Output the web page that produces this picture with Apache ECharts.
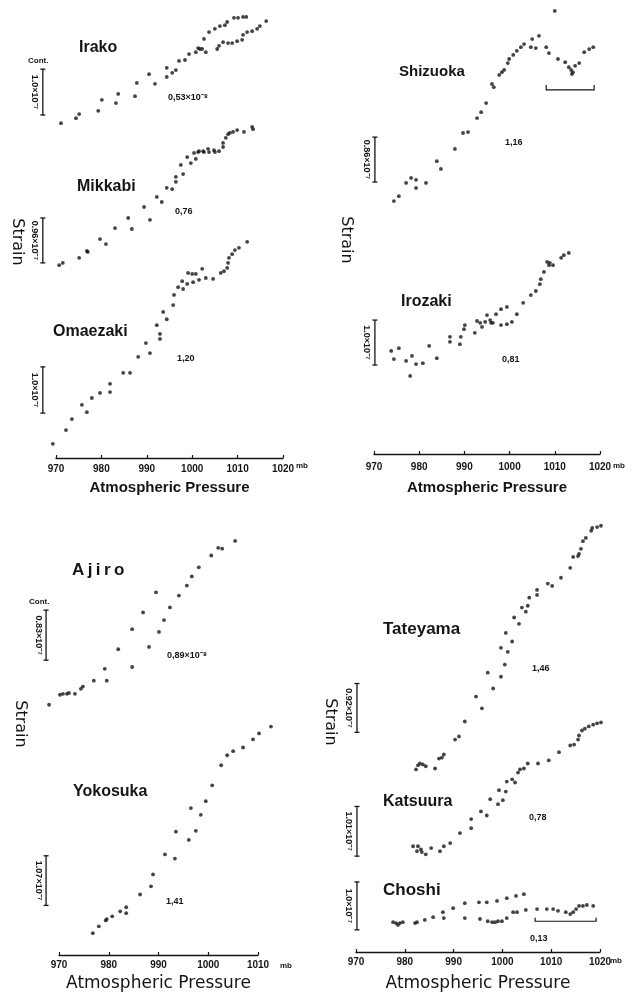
<!DOCTYPE html>
<html>
<head>
<meta charset="utf-8">
<script src="https://cdn.jsdelivr.net/npm/echarts@6/dist/echarts.min.js"></script>
<style>
html, body { margin: 0; padding: 0; background: #fff; }
#chart { width: 635px; height: 993px; }
</style>
</head>
<body>
<div id="chart"></div>
<script>
// Strain records against atmospheric pressure (mb). Strain is given as a
// relative offset (0-100 per panel) so several stations share one frame.
const pressureTicks = [970, 980, 990, 1000, 1010, 1020];

// --- Panel 1 -------------------------------------------------------------
const irakoP = [971.1,974.4,975.1,979.3,980.1,983.2,983.7,987.4,987.8,990.5,991.8,994.4,994.4,995.6,996.4,997.1,998.4,999.3,1000.8,1001.3,1001.7,1002.2,1003.0,1002.6,1003.7,1005.0,1006.1,1007.2,1007.7,1009.2,1010.1,1011.2,1011.9,1005.5,1005.9,1006.8,1007.9,1008.8,1009.9,1011.0,1011.2,1012.1,1013.2,1014.3,1014.9,1016.3];
const irakoS = [73.1,74.2,75.1,75.8,78.2,77.5,79.5,79.0,81.9,83.8,81.7,83.2,85.2,84.1,84.7,86.7,86.9,88.2,88.6,89.5,89.3,89.3,88.6,91.5,93.0,93.7,94.3,94.5,95.2,96.1,96.1,96.3,96.3,89.3,90.0,90.8,90.6,90.6,91.0,91.3,92.4,93.0,93.2,93.7,94.3,95.4];

const mikkabiP = [970.7,971.5,975.1,976.8,977.0,979.7,981.0,983.0,985.9,986.7,989.4,990.7,992.2,993.3,994.4,995.6,996.4,996.4,998.0,997.5,998.9,999.7,1000.4,1000.8,1001.3,1001.5,1002.4,1002.6,1003.5,1003.7,1004.8,1005.0,1005.9,1006.8,1006.8,1007.4,1007.9,1008.3,1009.0,1009.9,1011.4,1013.2,1013.4];
const mikkabiS = [42.1,42.6,43.7,45.2,45.0,47.8,46.7,50.2,52.4,50.0,54.8,52.0,57.0,55.9,59.0,58.7,60.3,61.4,62.0,64.0,65.7,64.4,66.6,65.3,66.8,67.0,67.0,66.8,67.5,66.8,67.2,66.8,67.0,67.9,68.8,69.9,70.7,71.0,71.2,71.6,71.2,72.3,71.8];

const omaezakiP = [969.3,972.2,973.5,975.7,976.8,977.9,979.7,981.9,981.9,984.8,986.3,988.1,989.8,990.7,992.2,992.9,992.9,993.6,994.4,995.8,996.0,996.9,997.8,998.0,998.9,999.1,1000.0,1000.8,1000.2,1001.5,1002.2,1003.0,1004.6,1006.3,1007.0,1007.7,1007.9,1008.1,1008.8,1009.4,1010.3,1012.1];
const omaezakiS = [3.1,6.1,8.5,11.6,10.0,13.1,14.2,16.2,14.4,18.6,18.6,22.1,25.1,22.9,29.0,27.1,26.0,31.9,30.3,33.4,35.6,37.3,38.6,36.9,38.0,40.4,40.2,40.2,38.4,38.9,41.3,39.3,39.1,40.4,40.8,41.5,42.6,43.7,44.5,45.4,45.9,47.2];

// --- Panel 2 -------------------------------------------------------------
const shizuokaP = [974.4,975.5,977.1,978.2,979.3,979.3,981.5,983.9,984.8,987.9,989.7,990.8,992.8,993.7,994.8,996.1,996.5,997.7,998.3,998.8,999.6,999.9,1000.8,1001.6,1002.5,1003.2,1004.7,1005.0,1005.8,1006.5,1008.1,1008.7,1010.7,1012.3,1013.1,1013.6,1013.8,1014.0,1014.5,1015.4,1016.5,1017.6,1018.5,1010.0];
const shizuokaS = [55.7,56.8,59.7,60.8,60.4,58.6,59.7,64.5,62.8,67.2,70.7,70.9,74.0,75.3,77.3,81.5,80.8,83.5,84.1,84.6,86.1,87.0,87.9,88.8,89.6,90.3,89.6,91.4,89.4,92.1,89.6,88.3,87.0,86.3,85.2,84.6,83.7,84.1,85.5,86.1,88.5,89.2,89.6,97.6];

const irozakiP = [973.8,974.4,975.5,977.1,978.4,978.0,979.3,980.8,982.2,983.9,986.8,986.8,989.2,989.0,989.9,990.1,992.3,992.8,993.5,993.9,994.6,995.0,995.7,995.9,996.3,997.0,998.1,998.1,999.4,999.4,1000.5,1001.6,1003.0,1004.7,1005.8,1006.7,1006.9,1007.6,1008.3,1008.7,1008.9,1009.6,1011.4,1012.0,1013.1];
const irozakiS = [22.7,20.9,23.3,20.5,21.6,17.2,19.8,20.0,23.8,21.1,25.8,24.7,25.8,24.2,27.5,28.4,26.7,29.3,28.9,28.0,29.1,30.6,29.5,28.9,28.9,30.8,28.4,31.9,28.6,32.4,29.1,30.8,33.3,35.0,35.9,37.4,38.5,40.1,42.3,41.6,42.1,41.6,43.2,43.8,44.3];

// --- Panel 3 -------------------------------------------------------------
const ajiroP = [968.0,970.2,970.8,971.6,972.0,973.2,974.4,974.8,977.0,979.6,979.2,981.9,984.7,984.7,986.9,988.1,989.5,990.1,991.1,992.3,994.1,995.7,996.7,998.1,1000.6,1002.0,1002.8,1005.4];
const ajiroS = [55.0,57.2,57.4,57.4,57.6,57.4,58.5,59.0,60.3,60.3,62.9,67.2,63.3,71.6,75.3,67.7,79.7,71.0,73.6,76.4,79.0,81.2,83.2,85.2,87.8,89.5,89.3,91.0];

const yokosukaP = [976.8,978.0,979.4,979.6,980.7,982.3,983.5,983.5,986.3,988.5,988.9,991.3,993.3,993.5,996.1,996.5,997.5,998.5,999.5,1000.8,1002.6,1003.8,1005.0,1007.0,1009.0,1010.2,1012.6];
const yokosukaS = [4.8,6.3,7.6,7.9,8.5,9.6,10.5,9.2,13.3,15.1,17.7,22.1,21.2,27.1,25.3,32.3,27.3,30.8,33.8,37.3,41.7,43.9,44.8,45.6,47.4,48.7,50.2];

// --- Panel 4 -------------------------------------------------------------
const tateyamaP = [982.3,982.7,983.1,983.7,984.3,986.2,987.0,987.6,988.0,990.3,991.1,992.3,994.6,995.8,997.0,998.1,999.7,1000.5,999.7,1001.1,1000.7,1002.0,1002.4,1003.4,1004.0,1004.8,1005.2,1005.5,1007.1,1007.1,1009.3,1010.2,1012.0,1013.9,1014.5,1015.5,1015.7,1016.1,1016.5,1017.1,1018.2,1018.4,1019.4,1020.2];
const tateyamaS = [40.4,41.3,41.7,41.5,41.1,40.6,42.8,43.0,43.7,47.0,47.7,51.0,56.5,53.9,61.8,58.3,60.9,63.6,67.3,66.4,70.6,68.7,74.0,72.6,76.2,75.3,76.6,78.4,79.0,80.1,81.5,81.0,82.8,85.0,87.4,87.6,88.1,89.2,90.9,91.6,93.2,93.8,94.0,94.3];

const katsuuraP = [981.7,982.5,982.7,983.3,983.5,984.3,985.4,987.2,988.0,989.3,991.3,993.6,993.6,995.6,996.8,997.5,999.1,999.3,1000.1,1000.7,1000.9,1002.0,1002.6,1003.2,1003.6,1004.4,1005.2,1007.3,1009.5,1011.6,1013.9,1014.7,1015.5,1015.7,1016.3,1016.9,1017.7,1018.6,1019.4,1020.2];
const katsuuraS = [23.4,22.3,23.4,22.7,22.1,21.6,23.0,22.3,23.4,24.1,26.3,29.4,27.4,31.1,30.2,33.8,32.7,35.8,33.6,35.5,37.7,38.2,37.5,39.7,40.4,40.6,41.7,41.7,42.4,44.2,45.7,45.9,47.0,47.9,49.0,49.4,49.9,50.3,50.6,50.8];

const choshiP = [977.6,978.2,978.6,979.0,979.6,982.1,982.5,984.1,985.8,987.8,988.0,989.9,992.3,992.3,995.2,995.4,996.8,997.0,997.9,998.9,998.5,999.1,999.9,1000.9,1000.9,1002.2,1002.8,1003.0,1004.4,1004.8,1007.1,1009.1,1010.4,1011.4,1013.0,1013.9,1014.5,1015.1,1015.7,1016.5,1017.3,1018.6];
const choshiS = [6.6,6.4,6.0,6.4,6.6,6.4,6.6,7.1,7.7,8.8,7.5,9.7,10.8,7.5,11.0,7.3,11.0,6.8,6.6,11.3,6.6,6.8,6.8,11.9,7.5,8.8,12.4,8.8,12.8,9.3,9.5,9.5,9.5,9.1,8.8,8.4,8.8,9.5,10.2,10.2,10.4,10.2];

// Scale bars: [pressure, low, high] and the strain each one stands for
const scaleBarPos   = [[967.1,74.9,84.9],[967.1,42.6,52.4],[967.1,9.8,19.9],[970.2,59.9,69.8],[970.2,19.6,29.5],[967.4,64.8,75.8],[967.4,10.9,21.8],[970.2,48.6,59.4],[970.2,21.2,32.2],[970.2,4.9,15.5]];
const scaleBarText  = ['1.0×10⁻⁷','0.96×10⁻⁷','1.0×10⁻⁷','0.86×10⁻⁷','1.0×10⁻⁷','0.83×10⁻⁷','1.07×10⁻⁷','0.92×10⁻⁷','1.01×10⁻⁷','1.0×10⁻⁷'];
const scaleBarPanel = [0,0,0,1,1,2,2,3,3,3];

// Brackets marking the later part of a record: [p0, p1, y, yCap]
const bracketPos   = [[1008.1,1018.7,80.2,81.3],[1006.7,1019.2,6.8,7.6]];
const bracketPanel = [1,3];

const stations = [
  {name:'Irako',    p:irakoP,    s:irakoS,    panel:0},
  {name:'Mikkabi',  p:mikkabiP,  s:mikkabiS,  panel:0},
  {name:'Omaezaki', p:omaezakiP, s:omaezakiS, panel:0},
  {name:'Shizuoka', p:shizuokaP, s:shizuokaS, panel:1},
  {name:'Irozaki',  p:irozakiP,  s:irozakiS,  panel:1},
  {name:'Ajiro',    p:ajiroP,    s:ajiroS,    panel:2},
  {name:'Yokosuka', p:yokosukaP, s:yokosukaS, panel:2},
  {name:'Tateyama', p:tateyamaP, s:tateyamaS, panel:3},
  {name:'Katsuura', p:katsuuraP, s:katsuuraS, panel:3},
  {name:'Choshi',   p:choshiP,   s:choshiS,   panel:3}
];

const INK = '#151515';
const SANS = 'Liberation Sans, Arial, sans-serif';

const panels = [
  {left:56,  right:352, top:0,   bottom:535, max:1020, margin:6, gap:22, nameFont:'bold', nameSize:15, nameFamily:SANS},
  {left:374, right:35,  top:0,   bottom:539, max:1020, margin:8, gap:26, nameFont:'bold', nameSize:15, nameFamily:SANS},
  {left:59,  right:377, top:500, bottom:35,  max:1010, margin:5, gap:20, nameFont:'normal', nameSize:17, nameFamily:'DejaVu Sans, sans-serif'},
  {left:356, right:35,  top:500, bottom:40,  max:1020, margin:5, gap:23, nameFont:'normal', nameSize:17, nameFamily:'DejaVu Sans, sans-serif'}
];

const grid = panels.map(p => ({left:p.left, right:p.right, top:p.top, bottom:p.bottom, containLabel:false}));
const xAxis = panels.map((p, i) => ({
  type:'value', gridIndex:i, min:970, max:p.max, interval:10,
  name:'Atmospheric Pressure', nameLocation:'middle', nameGap:p.gap,
  nameTextStyle:{color:INK, fontSize:p.nameSize, fontWeight:p.nameFont, fontFamily:p.nameFamily},
  axisLine:{onZero:false, lineStyle:{color:INK, width:1.3}},
  axisTick:{inside:true, length:3, lineStyle:{color:INK, width:1.2}},
  splitLine:{show:false},
  axisLabel:{color:INK, fontSize:10, fontWeight:'bold', fontFamily:SANS, margin:p.margin,
    formatter: v => pressureTicks.indexOf(v) >= 0 ? String(v) : ''}
}));
const yAxis = panels.map((p, i) => ({type:'value', gridIndex:i, min:0, max:100, show:false}));

const series = stations.map(st => ({
  name: st.name, type:'scatter', xAxisIndex:st.panel, yAxisIndex:st.panel,
  symbol:'circle', symbolSize:3.8, clip:false, silent:true,
  itemStyle:{color:INK},
  data: st.p.slice(0, Math.min(st.p.length, st.s.length)).map((v, k) => [v, st.s[k]])
}));

// Scale bars, one custom series per panel
panels.forEach((p, pi) => {
  const idx = scaleBarPanel.map((v, k) => v === pi ? k : -1).filter(k => k >= 0);
  if (!idx.length) return;
  series.push({
    type:'custom', xAxisIndex:pi, yAxisIndex:pi, clip:false, silent:true,
    encode:{x:0, y:[1,2]},
    data: idx.map(k => scaleBarPos[k]),
    renderItem: (params, api) => {
      const label = scaleBarText[idx[params.dataIndex]];
      const b = api.coord([api.value(0), api.value(1)]);
      const t = api.coord([api.value(0), api.value(2)]);
      const cap = 2.5;
      const ls = {stroke:INK, lineWidth:1.3};
      return {type:'group', children:[
        {type:'line', shape:{x1:b[0], y1:b[1], x2:t[0], y2:t[1]}, style:ls},
        {type:'line', shape:{x1:t[0]-cap, y1:t[1], x2:t[0]+cap, y2:t[1]}, style:ls},
        {type:'line', shape:{x1:b[0]-cap, y1:b[1], x2:b[0]+cap, y2:b[1]}, style:ls},
        {type:'text', x:b[0]-8, y:(b[1]+t[1])/2, rotation:-Math.PI/2,
          style:{text:label, fill:INK, font:'bold 9px ' + SANS, align:'center', verticalAlign:'middle'}}
      ]};
    }
  });
});

// Brackets
bracketPos.forEach((br, k) => {
  const pi = bracketPanel[k];
  series.push({
    type:'custom', xAxisIndex:pi, yAxisIndex:pi, clip:false, silent:true,
    encode:{x:[0,1], y:[2,3]},
    data:[br],
    renderItem: (params, api) => {
      const a = api.coord([api.value(0), api.value(2)]);
      const b = api.coord([api.value(1), api.value(2)]);
      const c = api.coord([api.value(0), api.value(3)]);
      return {type:'polyline', shape:{points:[[a[0], c[1]], a, b, [b[0], c[1]]]},
        style:{stroke:INK, lineWidth:1.2, fill:null}};
    }
  });
});

// Text annotations
const topName = 'bold 16px ' + SANS;
const lowName = 'bold 17px ' + SANS;
const valFont = 'bold 9px ' + SANS;
const smallFont = 'bold 8px ' + SANS;
const texts = [
  ['Irako', 79, 48, topName], ['0,53×10⁻⁸', 168, 98, valFont],
  ['Mikkabi', 77, 187, topName], ['0,76', 175, 212, valFont],
  ['Omaezaki', 53, 332, topName], ['1,20', 177, 359, valFont],
  ['Cont.', 28, 61, smallFont],
  ['Shizuoka', 399, 72, 'bold 15px ' + SANS], ['1,16', 505, 143, valFont],
  ['Irozaki', 401, 302, topName], ['0,81', 502, 360, valFont],
  ['A\u2009j\u2009i\u2009r\u2009o', 72, 570, lowName], ['Cont.', 29, 602, smallFont],
  ['0,89×10⁻⁸', 167, 656, valFont],
  ['Yokosuka', 73, 792, 'bold 16px ' + SANS], ['1,41', 166, 902, valFont],
  ['Tateyama', 383, 629, lowName], ['1,46', 532, 669, valFont],
  ['Katsuura', 383, 802, 'bold 16px ' + SANS], ['0,78', 529, 818, valFont],
  ['Choshi', 383, 890, lowName], ['0,13', 530, 939, valFont],
  ['mb', 296, 466, smallFont], ['mb', 613, 466, smallFont],
  ['mb', 280, 966, smallFont], ['mb', 610, 961, smallFont]
];
const graphic = texts.map(t => ({
  type:'text', x:t[1], y:t[2], silent:true,
  style:{text:t[0], font:t[3], fill:INK, align:'left', verticalAlign:'middle'}
}));
[[17, 242], [346, 240], [20, 724], [330, 722]].forEach(c => {
  graphic.push({type:'text', x:c[0], y:c[1], rotation:-Math.PI/2, silent:true,
    style:{text:'Strain', font:'16px DejaVu Sans, sans-serif', fill:INK, align:'center', verticalAlign:'middle'}});
});

const chart = echarts.init(document.getElementById('chart'), null, {renderer:'canvas'});
chart.setOption({
  animation:false,
  backgroundColor:'#fff',
  grid, xAxis, yAxis, series, graphic
});
</script>
</body>
</html>
